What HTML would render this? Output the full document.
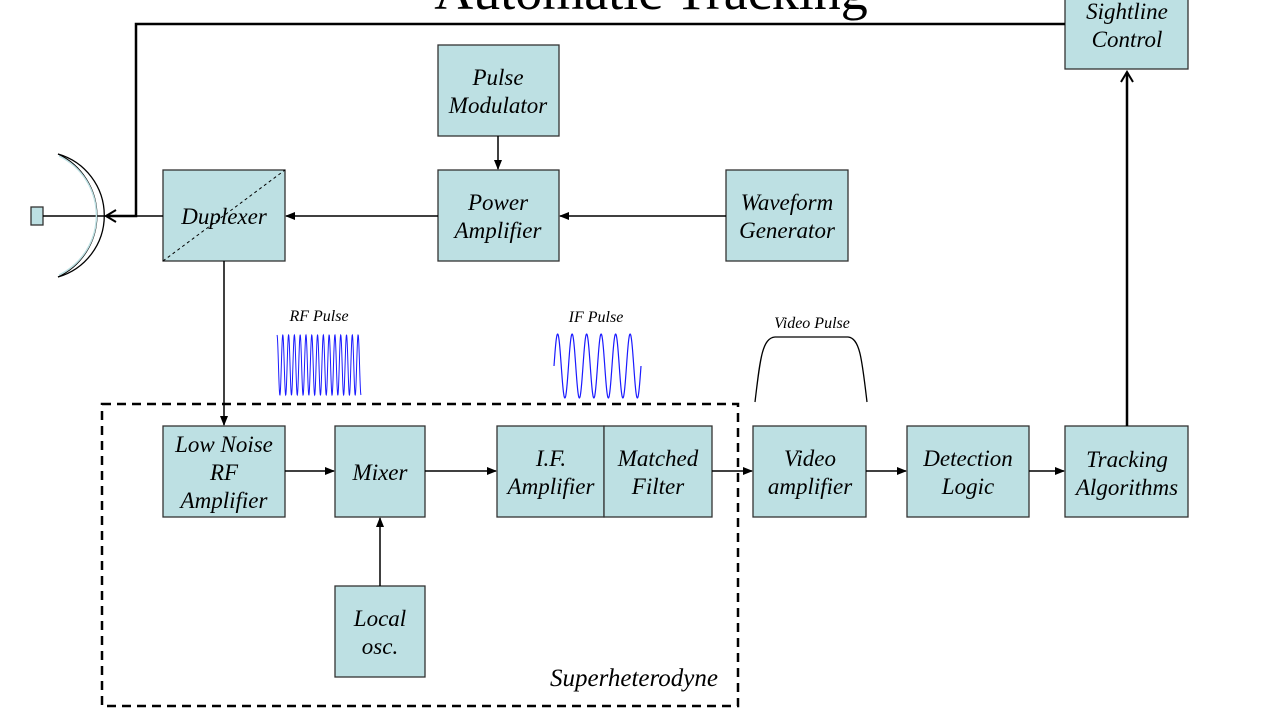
<!DOCTYPE html>
<html><head><meta charset="utf-8"><style>
html,body{margin:0;padding:0;background:#fff;width:1261px;height:717px;overflow:hidden}
svg text{font-family:"Liberation Serif",serif;font-style:italic;fill:#000}
</style></head><body>
<svg width="1261" height="717" viewBox="0 0 1261 717" xmlns="http://www.w3.org/2000/svg">
<defs>
<marker id="a" markerWidth="10" markerHeight="10" refX="9" refY="5" orient="auto" markerUnits="userSpaceOnUse"><path d="M0,1 L10,5 L0,9 z" fill="#000"/></marker>
<marker id="o" markerWidth="14" markerHeight="14" refX="12" refY="7" orient="auto" markerUnits="userSpaceOnUse"><path d="M2,1 L12,7 L2,13" fill="none" stroke="#000" stroke-width="2"/></marker>
</defs>
<text x="651" y="9" font-size="54" text-anchor="middle" style="font-style:normal">Automatic Tracking</text>
<g fill="#bde0e3" stroke="#333" stroke-width="1.3">
<rect x="1065" y="-5" width="123" height="74"/>
<rect x="438" y="45" width="121" height="91"/>
<rect x="438" y="170" width="121" height="91"/>
<rect x="726" y="170" width="122" height="91"/>
<rect x="163" y="170" width="122" height="91"/>
<rect x="163" y="426" width="122" height="91"/>
<rect x="335" y="426" width="90" height="91"/>
<rect x="497" y="426" width="107" height="91"/>
<rect x="604" y="426" width="108" height="91"/>
<rect x="753" y="426" width="113" height="91"/>
<rect x="907" y="426" width="122" height="91"/>
<rect x="1065" y="426" width="123" height="91"/>
<rect x="335" y="586" width="90" height="91"/>
<rect x="31" y="207" width="12" height="18"/>
</g>
<line x1="163" y1="261" x2="285" y2="170" stroke="#000" stroke-dasharray="3,3"/>
<g fill="none" stroke="#000" stroke-width="1.5">
<line x1="43" y1="216" x2="163" y2="216"/>
<line x1="498" y1="136" x2="498" y2="169" marker-end="url(#a)"/>
<line x1="438" y1="216" x2="286" y2="216" marker-end="url(#a)"/>
<line x1="726" y1="216" x2="560" y2="216" marker-end="url(#a)"/>
<line x1="224" y1="261" x2="224" y2="425" marker-end="url(#a)"/>
<line x1="285" y1="471" x2="334" y2="471" marker-end="url(#a)"/>
<line x1="425" y1="471" x2="496" y2="471" marker-end="url(#a)"/>
<line x1="712" y1="471" x2="752" y2="471" marker-end="url(#a)"/>
<line x1="866" y1="471" x2="906" y2="471" marker-end="url(#a)"/>
<line x1="1029" y1="471" x2="1064" y2="471" marker-end="url(#a)"/>
<line x1="380" y1="586" x2="380" y2="518" marker-end="url(#a)"/>
</g>
<path d="M58,154 A64,64 0 0 1 58,277" fill="none" stroke="#000" stroke-width="1.3"/>
<path d="M58,154 A68,68 0 0 1 58,277" fill="none" stroke="#000" stroke-width="1"/>
<path d="M59,156 A66,66 0 0 1 59,275" fill="none" stroke="#bde0e3" stroke-width="1.5"/>
<path d="M1127,426 L1127,72" stroke="#000" stroke-width="2.5" fill="none" marker-end="url(#o)"/>
<path d="M1065,24 L136,24 L136,216 L106,216" stroke="#000" stroke-width="2.5" fill="none" marker-end="url(#o)"/>
<rect x="102" y="404" width="636" height="302" fill="none" stroke="#000" stroke-width="2.5" stroke-dasharray="9,6"/>
<path id="rf" fill="none" stroke="#1a1aff" stroke-width="1"/>
<path id="ifw" fill="none" stroke="#1a1aff" stroke-width="1.2"/>
<path d="M755,402 C760,360 762,338 775,337 L848,337 C860,338 862,360 867,402" fill="none" stroke="#000" stroke-width="1.3"/>
<g font-size="16"><text x="319" y="321" text-anchor="middle">RF Pulse</text>
<text x="596" y="322" text-anchor="middle">IF Pulse</text>
<text x="812" y="328" text-anchor="middle">Video Pulse</text></g>
<g font-size="23" text-anchor="middle">
<text x="1127" y="19">Sightline</text><text x="1127" y="47">Control</text>
<text x="498" y="85">Pulse</text><text x="498" y="113">Modulator</text>
<text x="498" y="210">Power</text><text x="498" y="238">Amplifier</text>
<text x="787" y="210">Waveform</text><text x="787" y="238">Generator</text>
<text x="224" y="224">Duplexer</text>
<text x="224" y="452">Low Noise</text><text x="224" y="480">RF</text><text x="224" y="508">Amplifier</text>
<text x="380" y="480">Mixer</text>
<text x="551" y="466">I.F.</text><text x="551" y="494">Amplifier</text>
<text x="658" y="466">Matched</text><text x="658" y="494">Filter</text>
<text x="810" y="466">Video</text><text x="810" y="494">amplifier</text>
<text x="968" y="466">Detection</text><text x="968" y="494">Logic</text>
<text x="1127" y="467">Tracking</text><text x="1127" y="495">Algorithms</text>
<text x="380" y="626">Local</text><text x="380" y="654">osc.</text>
<text x="634" y="686" font-size="25">Superheterodyne</text>
</g>
</svg>
<script>
function w(id,x0,x1,yc,amp,cyc,ph){var d='';var n=600;for(var i=0;i<=n;i++){var t=i/n;var x=x0+(x1-x0)*t;var y=yc-amp*Math.sin(2*Math.PI*cyc*t+ph);d+=(i?'L':'M')+x.toFixed(2)+','+y.toFixed(2);}document.getElementById(id).setAttribute('d',d);}
w('rf',277,361,365,30,14.5,Math.PI/2);
w('ifw',554,641,366,32,6,0);
</script>
</body></html>
